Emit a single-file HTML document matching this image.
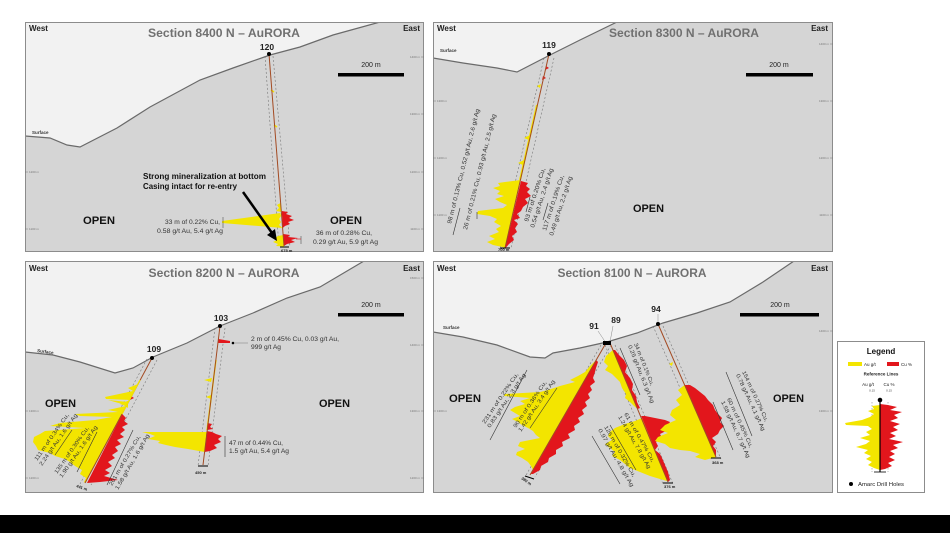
<!DOCTYPE html>
<html><head><meta charset="utf-8"><style>
html,body{margin:0;padding:0;background:#fff;}
svg{display:block;}
text{font-family:"Liberation Sans",sans-serif;}
</style></head><body>
<svg width="950" height="533" viewBox="0 0 950 533" xmlns="http://www.w3.org/2000/svg">
<defs>
<clipPath id="c1"><rect x="25" y="22" width="399" height="230"/></clipPath>
<clipPath id="c2"><rect x="433" y="22" width="400" height="230"/></clipPath>
<clipPath id="c3"><rect x="25" y="261" width="399" height="232"/></clipPath>
<clipPath id="c4"><rect x="433" y="261" width="400" height="232"/></clipPath>
</defs>
<rect width="950" height="533" fill="#fff"/>
<rect x="0" y="515" width="950" height="18" fill="#000"/>

<!-- ================= PANEL 1 ================= -->
<g clip-path="url(#c1)">
<rect x="25" y="22" width="399" height="230" fill="#d5d5d5"/>
<polygon points="25,22 380,22 333,35 300,47 270,55 233,68 200,80 150,107 117,128 80,147 67,145 50,138 25,136" fill="#f2f2f2"/>
<polyline points="25,136 50,138 67,145 80,147 117,128 150,107 200,80 233,68 270,55 300,47 333,35 380,22" fill="none" stroke="#6a6a6a" stroke-width="1.2"/>
<!-- dashed ref lines -->
<line x1="265" y1="56" x2="279" y2="247" stroke="#777" stroke-width="0.6" stroke-dasharray="2,2"/>
<line x1="273" y1="56" x2="290" y2="247" stroke="#777" stroke-width="0.6" stroke-dasharray="2,2"/>
<!-- histograms -->
<polygon points="222,221 280.3,213 281,216 279,219 281,222 279,225 282.5,228 222,223" fill="#f3e500"/>
<polygon points="280.5,203 277,205 279,208 276,211 281.5,212" fill="#f3e500"/>
<polygon points="281.8,211 288,212 286,214 292,216 289,218 294,220 288,222 290,224 285,226 282.7,228" fill="#e2161c"/>
<polygon points="283.4,235 278,236 275,238 277,240 273,242 278,244 276,246 284,246.5" fill="#f3e500"/>
<polygon points="283.4,234 290,235 288,237 298,238 291,240 295,242 287,244 284,246" fill="#e2161c"/>
<line x1="271" y1="90" x2="274" y2="92" stroke="#f3e500" stroke-width="1.5"/>
<line x1="274" y1="125" x2="277" y2="127" stroke="#f3e500" stroke-width="1.5"/>
<line x1="269" y1="54" x2="284" y2="246" stroke="#a34a22" stroke-width="1"/>
<line x1="280" y1="247" x2="289" y2="247" stroke="#000" stroke-width="1"/>
<line x1="223" y1="217" x2="223" y2="228" stroke="#555" stroke-width="0.6"/>
<line x1="301" y1="236" x2="301" y2="244" stroke="#555" stroke-width="0.6"/>
<line x1="296" y1="239" x2="301" y2="239" stroke="#e2161c" stroke-width="0.6"/>
</g>
<rect x="25.5" y="22.5" width="398" height="229" fill="none" stroke="#8c8c8c"/>
<circle cx="269" cy="54" r="2" fill="#000"/>
<text x="29" y="31" font-size="8" font-weight="bold" fill="#222">West</text>
<text x="420" y="31" font-size="8" font-weight="bold" fill="#222" text-anchor="end">East</text>
<text x="224" y="37" font-size="12" font-weight="bold" fill="#707070" text-anchor="middle" textLength="152" lengthAdjust="spacingAndGlyphs">Section 8400 N – AuRORA</text>
<text x="267" y="50" font-size="8.5" font-weight="bold" fill="#222" text-anchor="middle">120</text>
<text x="32" y="134" font-size="4.5" font-weight="bold" fill="#333">Surface</text>
<rect x="338" y="73" width="66" height="3.5" fill="#000"/>
<text x="371" y="67" font-size="7" fill="#222" text-anchor="middle">200 m</text>
<text x="83" y="224" font-size="11" font-weight="bold" fill="#111" textLength="32" lengthAdjust="spacingAndGlyphs">OPEN</text>
<text x="330" y="224" font-size="11" font-weight="bold" fill="#111" textLength="32" lengthAdjust="spacingAndGlyphs">OPEN</text>
<text x="143" y="179" font-size="8" font-weight="bold" fill="#111" textLength="123" lengthAdjust="spacingAndGlyphs">Strong mineralization at bottom</text>
<text x="143" y="189" font-size="8" font-weight="bold" fill="#111" textLength="94" lengthAdjust="spacingAndGlyphs">Casing intact for re-entry</text>
<line x1="243" y1="192" x2="272" y2="233" stroke="#000" stroke-width="2.5"/>
<polygon points="277,241 267,235 275,229" fill="#000"/>
<text x="220" y="224" font-size="6" fill="#333" text-anchor="end" textLength="55" lengthAdjust="spacingAndGlyphs">33 m of 0.22% Cu,</text>
<text x="223" y="233" font-size="6" fill="#333" text-anchor="end" textLength="66" lengthAdjust="spacingAndGlyphs">0.58 g/t Au, 5.4 g/t Ag</text>
<text x="316" y="235" font-size="6" fill="#333" textLength="56" lengthAdjust="spacingAndGlyphs">36 m of 0.28% Cu,</text>
<text x="313" y="244" font-size="6" fill="#333" textLength="65" lengthAdjust="spacingAndGlyphs">0.29 g/t Au, 5.9 g/t Ag</text>
<text x="281" y="252" font-size="4" font-weight="bold" fill="#222">675 m</text>
<g stroke="#777" stroke-width="0.5">
<line x1="421" y1="57" x2="424" y2="57"/><line x1="421" y1="114" x2="424" y2="114"/><line x1="421" y1="172" x2="424" y2="172"/><line x1="421" y1="229" x2="424" y2="229"/>
<line x1="25" y1="172" x2="28" y2="172"/><line x1="25" y1="229" x2="28" y2="229"/>
</g>
<g font-size="3" fill="#777">
<text x="420" y="58" text-anchor="end">1400 m</text><text x="420" y="115" text-anchor="end">1300 m</text><text x="420" y="173" text-anchor="end">1200 m</text><text x="420" y="230" text-anchor="end">1100 m</text>
<text x="29" y="173">1200 m</text><text x="29" y="230">1100 m</text>
</g>

<!-- ================= PANEL 2 ================= -->
<g clip-path="url(#c2)">
<rect x="433" y="22" width="400" height="230" fill="#d5d5d5"/>
<polygon points="433,22 617,22 580,40 550,55 517,72 497,68 463,63 433,58" fill="#f2f2f2"/>
<polyline points="433,58 463,63 497,68 517,72 550,55 580,40 617,22" fill="none" stroke="#6a6a6a" stroke-width="1.2"/>
<line x1="544" y1="58" x2="500" y2="248" stroke="#777" stroke-width="0.6" stroke-dasharray="2,2"/>
<line x1="554" y1="58" x2="511" y2="248" stroke="#777" stroke-width="0.6" stroke-dasharray="2,2"/>
<polygon points="520.4,180 505,182 498,183 500,186 493,188 500,191 497,194 504,196 495,199 500,202 507,205 503,208 478,211 477,214 490,216 497,219 494,222 501,226 496,229 499,232 489,236 495,239 487,242 493,245 505,247.5" fill="#f3e500"/>
<polygon points="521,181 528,183 526,186 530,189 527,192 531,196 525,199 528,203 523,207 521,211 517,214 520,218 514,220 518,224 515,228 517,232 512,236 514,240 509,244 506,247.5 505.2,247.5" fill="#e2161c"/>
<line x1="537" y1="105" x2="520" y2="180" stroke="#f3e500" stroke-width="2"/>
<polygon points="530,135 524,138 529,140" fill="#f3e500"/>
<polygon points="524,160 518,163 523,165" fill="#f3e500"/>
<polygon points="546,66 549,68 545,70" fill="#e2161c"/>
<polygon points="543,76 546,78 542,80" fill="#e2161c"/>
<polygon points="541,84 537,86 540,88" fill="#f3e500"/>
<line x1="549" y1="54" x2="505" y2="248" stroke="#a34a22" stroke-width="1"/>
<line x1="500" y1="248" x2="510" y2="248" stroke="#000" stroke-width="1"/>
</g>
<rect x="433.5" y="22.5" width="399" height="229" fill="none" stroke="#8c8c8c"/>
<circle cx="549" cy="54" r="2" fill="#000"/>
<text x="437" y="31" font-size="8" font-weight="bold" fill="#222">West</text>
<text x="828" y="31" font-size="8" font-weight="bold" fill="#222" text-anchor="end">East</text>
<text x="684" y="37" font-size="12" font-weight="bold" fill="#707070" text-anchor="middle" textLength="150" lengthAdjust="spacingAndGlyphs">Section 8300 N – AuRORA</text>
<text x="549" y="48" font-size="8.5" font-weight="bold" fill="#222" text-anchor="middle">119</text>
<text x="440" y="52" font-size="4.5" font-weight="bold" fill="#333">Surface</text>
<rect x="746" y="73" width="67" height="3.5" fill="#000"/>
<text x="779" y="67" font-size="7" fill="#222" text-anchor="middle">200 m</text>
<text x="633" y="212" font-size="11" font-weight="bold" fill="#111" textLength="31" lengthAdjust="spacingAndGlyphs">OPEN</text>
<g font-size="6" fill="#333">
<text transform="translate(451,224) rotate(-76)" textLength="118" lengthAdjust="spacingAndGlyphs">98 m of 0.13% Cu, 0.52 g/t Au, 2.6 g/t Ag</text>
<text transform="translate(467,230) rotate(-76)" textLength="119" lengthAdjust="spacingAndGlyphs">26 m of 0.21% Cu, 0.93 g/t Au, 2.5 g/t Ag</text>
<text transform="translate(528,222) rotate(-72)" textLength="56" lengthAdjust="spacingAndGlyphs">93 m of 0.20% Cu,</text>
<text transform="translate(534,228) rotate(-72)" textLength="62" lengthAdjust="spacingAndGlyphs">0.54 g/t Au, 2.4 g/t Ag</text>
<text transform="translate(546,231) rotate(-72)" textLength="58" lengthAdjust="spacingAndGlyphs">117 m of 0.19% Cu,</text>
<text transform="translate(553,236) rotate(-72)" textLength="62" lengthAdjust="spacingAndGlyphs">0.49 g/t Au, 2.2 g/t Ag</text>
</g>
<g stroke="#333" stroke-width="0.6">
<line x1="453" y1="235" x2="460" y2="208"/>
<line x1="477" y1="212" x2="477" y2="219"/>
<line x1="526" y1="212" x2="530" y2="197"/>
<line x1="543" y1="220" x2="548" y2="203"/>
</g>
<text x="498" y="251" font-size="4" font-weight="bold" fill="#222">700 m</text>
<g stroke="#777" stroke-width="0.5">
<line x1="830" y1="44" x2="833" y2="44"/><line x1="830" y1="101" x2="833" y2="101"/><line x1="830" y1="158" x2="833" y2="158"/><line x1="830" y1="215" x2="833" y2="215"/>
<line x1="433" y1="101" x2="436" y2="101"/><line x1="433" y1="158" x2="436" y2="158"/><line x1="433" y1="215" x2="436" y2="215"/>
</g>
<g font-size="3" fill="#777">
<text x="829" y="45" text-anchor="end">1400 m</text><text x="829" y="102" text-anchor="end">1300 m</text><text x="829" y="159" text-anchor="end">1200 m</text><text x="829" y="216" text-anchor="end">1100 m</text>
<text x="437" y="102">1300 m</text><text x="437" y="159">1200 m</text><text x="437" y="216">1100 m</text>
</g>

<!-- ================= PANEL 3 ================= -->
<g clip-path="url(#c3)">
<rect x="25" y="261" width="399" height="232" fill="#d5d5d5"/>
<polygon points="25,261 364,261 320,287 287,298 253,313 220,326 187,343 153,357 133,368 115,373 80,362 53,355 25,352" fill="#f2f2f2"/>
<polyline points="25,352 53,355 80,362 115,373 133,368 153,357 187,343 220,326 253,313 287,298 320,287 364,261" fill="none" stroke="#6a6a6a" stroke-width="1.2"/>
<line x1="147" y1="359" x2="80" y2="484" stroke="#777" stroke-width="0.6" stroke-dasharray="2,2"/>
<line x1="157" y1="360" x2="91" y2="485" stroke="#777" stroke-width="0.6" stroke-dasharray="2,2"/>
<line x1="215" y1="328" x2="198" y2="466" stroke="#777" stroke-width="0.6" stroke-dasharray="2,2"/>
<line x1="225" y1="328" x2="208" y2="466" stroke="#777" stroke-width="0.6" stroke-dasharray="2,2"/>
<!-- hole 109 -->
<polygon points="138.1,384 128,388 133,391 105,397 106,399 130,400 120,404 126,406 108,410 118,412 75,414 80,416 112,417 95,420 60,423 50,426 85,428 45,431 40,434 34,437 33,442 36,446 38,450 50,453 55,456 65,459 70,462 75,466 82,470 80,474 86,478 84,482 85.5,483" fill="#f3e500"/>
<polygon points="128,408 122,404 108,400 128,402" fill="#f3e500"/>
<polygon points="122.2,414 126,418 124,421 128,424 122,427 125,430 120,434 124,437 117,440 121,444 115,447 118,451 112,455 115,458 108,462 112,466 105,470 110,473 104,476 118,480 100,482 87,483" fill="#e2161c"/>
<polygon points="131,396 134,398 130,400" fill="#e2161c"/>
<line x1="152" y1="358" x2="85" y2="483" stroke="#a34a22" stroke-width="1"/>
<line x1="140" y1="380" x2="122" y2="414" stroke="#f3e500" stroke-width="1.2"/>
<!-- hole 103 -->
<line x1="216" y1="360" x2="207" y2="430" stroke="#f3e500" stroke-width="1.4"/>
<polygon points="212,378 204,380 211,382" fill="#f3e500"/>
<polygon points="211,395 206,397 211,399" fill="#f3e500"/>
<polygon points="207.5,423 212,424 210,427 213,429 207,430" fill="#e2161c"/>
<polygon points="206.6,432 142,432 150,434 155,436 148,439 160,441 158,443 166,445 175,447 188,449 204.6,452" fill="#f3e500"/>
<polygon points="206.6,431 212,432 216,434 222,436 218,439 221,442 214,445 217,448 210,451 204.6,452" fill="#e2161c"/>
<polygon points="218.5,339 230,341 230,343 218.3,343" fill="#e2161c"/>
<line x1="220" y1="326" x2="203" y2="465" stroke="#a34a22" stroke-width="1"/>
<line x1="198" y1="466" x2="208" y2="466" stroke="#000" stroke-width="1"/>
</g>
<rect x="25.5" y="261.5" width="398" height="231" fill="none" stroke="#8c8c8c"/>
<circle cx="152" cy="358" r="2" fill="#000"/>
<circle cx="220" cy="326" r="2" fill="#000"/>
<circle cx="233" cy="343" r="1.3" fill="#000"/>
<line x1="235" y1="343" x2="248" y2="343" stroke="#888" stroke-width="0.6"/>
<text x="29" y="271" font-size="8" font-weight="bold" fill="#222">West</text>
<text x="420" y="271" font-size="8" font-weight="bold" fill="#222" text-anchor="end">East</text>
<text x="224" y="277" font-size="12" font-weight="bold" fill="#707070" text-anchor="middle" textLength="151" lengthAdjust="spacingAndGlyphs">Section 8200 N – AuRORA</text>
<text x="154" y="352" font-size="8.5" font-weight="bold" fill="#222" text-anchor="middle">109</text>
<text x="221" y="321" font-size="8.5" font-weight="bold" fill="#222" text-anchor="middle">103</text>
<text transform="translate(37,352) rotate(8)" font-size="4.5" font-weight="bold" fill="#333">Surface</text>
<rect x="338" y="313" width="66" height="3.5" fill="#000"/>
<text x="371" y="307" font-size="7" fill="#222" text-anchor="middle">200 m</text>
<text x="45" y="407" font-size="11" font-weight="bold" fill="#111" textLength="31" lengthAdjust="spacingAndGlyphs">OPEN</text>
<text x="319" y="407" font-size="11" font-weight="bold" fill="#111" textLength="31" lengthAdjust="spacingAndGlyphs">OPEN</text>
<text x="251" y="341" font-size="6" fill="#333" textLength="88" lengthAdjust="spacingAndGlyphs">2 m of 0.45% Cu, 0.03 g/t Au,</text>
<text x="251" y="349" font-size="6" fill="#333" textLength="30" lengthAdjust="spacingAndGlyphs">999 g/t Ag</text>
<text x="229" y="445" font-size="6" fill="#333" textLength="54" lengthAdjust="spacingAndGlyphs">47 m of 0.44% Cu,</text>
<text x="229" y="453" font-size="6" fill="#333" textLength="60" lengthAdjust="spacingAndGlyphs">1.5 g/t Au, 5.4 g/t Ag</text>
<line x1="225" y1="436" x2="225" y2="457" stroke="#333" stroke-width="0.6"/>
<g font-size="5.5" fill="#333">
<text transform="translate(37,461) rotate(-55)" textLength="56" lengthAdjust="spacingAndGlyphs">111 m of 0.34% Cu,</text>
<text transform="translate(42,466) rotate(-55)" textLength="62" lengthAdjust="spacingAndGlyphs">2.24 g/t Au, 1.6 g/t Ag</text>
<text transform="translate(57,474) rotate(-55)" textLength="56" lengthAdjust="spacingAndGlyphs">135 m of 0.30% Cu,</text>
<text transform="translate(62,478) rotate(-55)" textLength="62" lengthAdjust="spacingAndGlyphs">1.90 g/t Au, 1.6 g/t Ag</text>
<text transform="translate(112,486) rotate(-60)" textLength="57" lengthAdjust="spacingAndGlyphs">201 m of 0.27% Cu,</text>
<text transform="translate(118,490) rotate(-60)" textLength="63" lengthAdjust="spacingAndGlyphs">1.58 g/t Au, 1.6 g/t Ag</text>
</g>
<g stroke="#333" stroke-width="0.6">
<line x1="55" y1="455" x2="72" y2="430"/>
<line x1="77" y1="472" x2="97" y2="432"/>
<line x1="107" y1="485" x2="133" y2="430"/>
</g>
<text transform="translate(76,487) rotate(20)" font-size="4" font-weight="bold" fill="#222">441 m</text>
<text x="195" y="474" font-size="4" font-weight="bold" fill="#222">450 m</text>
<g stroke="#777" stroke-width="0.5">
<line x1="421" y1="278" x2="424" y2="278"/><line x1="421" y1="345" x2="424" y2="345"/><line x1="421" y1="411" x2="424" y2="411"/><line x1="421" y1="478" x2="424" y2="478"/>
<line x1="25" y1="411" x2="28" y2="411"/><line x1="25" y1="478" x2="28" y2="478"/>
</g>
<g font-size="3" fill="#777">
<text x="420" y="279" text-anchor="end">1500 m</text><text x="420" y="346" text-anchor="end">1400 m</text><text x="420" y="412" text-anchor="end">1300 m</text><text x="420" y="479" text-anchor="end">1200 m</text>
<text x="29" y="412">1300 m</text><text x="29" y="479">1200 m</text>
</g>

<!-- ================= PANEL 4 ================= -->
<g clip-path="url(#c4)">
<rect x="433" y="261" width="400" height="232" fill="#d5d5d5"/>
<polygon points="433,261 794,261 763,282 730,302 697,313 663,323 637,333 607,342 580,348 553,353 545,358 530,357 497,345 463,337 433,332" fill="#f2f2f2"/>
<polyline points="433,332 463,337 497,345 530,357 545,358 553,353 580,348 607,342 637,333 663,323 697,313 730,302 763,282 794,261" fill="none" stroke="#6a6a6a" stroke-width="1.2"/>
<g stroke="#777" stroke-width="0.6" stroke-dasharray="2,2">
<line x1="601" y1="345" x2="525" y2="477"/><line x1="611" y1="345" x2="535" y2="477"/>
<line x1="605" y1="345" x2="663" y2="484"/><line x1="615" y1="345" x2="673" y2="484"/>
<line x1="653" y1="326" x2="711" y2="459"/><line x1="663" y1="326" x2="721" y2="459"/>
</g>
<!-- hole 91 -->
<polygon points="596.2,360 590,366 585,372 578,376 570,380 575,382 560,386 548,390 540,392 505,394 504,396 530,398 520,401 525,404 515,407 510,410 515,413 520,416 512,419 518,422 522,425 528,428 533,431 536,435 540,438 520,442 518,446 525,449 517,452 516,455 522,458 528,462 531,466 533,470 532,474 530.5,474" fill="#f3e500"/>
<polygon points="596.2,360 598,362 596,368 595,372 593,378 595,382 590,386 592,390 588,394 590,398 585,402 587,406 582,410 584,414 578,418 580,422 574,426 575,430 568,434 570,438 562,442 563,446 556,450 556,454 549,458 548,462 541,466 540,470 533,474 531,474" fill="#e2161c"/>
<line x1="606" y1="343" x2="530" y2="475" stroke="#a34a22" stroke-width="1"/>
<!-- hole 89 -->
<polygon points="612.9,350 606,356 604,362 608,366 605,370 612,374 616,378 620,382 622,388 626,394 625,398 630,402 634,406 637.6,409" fill="#f3e500"/>
<polygon points="612.9,350 615,350 619,355 624,360 627,366 625,372 630,378 633,384 632,390 636,396 637,402 640,408 637.6,409" fill="#e2161c"/>
<polygon points="642.1,418 635,421 625,424 615,428 610,432 608,436 612,440 605,444 610,448 615,452 612,456 620,460 625,464 630,468 640,472 650,476 660,479 667,481 668,482" fill="#f3e500"/>
<polygon points="641.2,416 645,416 655,418 665,420 670,422 668,425 663,428 666,431 660,434 662,438 656,442 658,446 655,450 660,454 662,458 665,465 668,472 670,480 668,482" fill="#e2161c"/>
<line x1="610" y1="343" x2="668" y2="482" stroke="#a34a22" stroke-width="1"/>
<!-- hole 94 -->
<polygon points="684.6,385 678,390 682,395 676,400 680,405 672,410 670,415 676,420 665,425 660,430 668,433 658,437 655,441 665,444 670,448 680,450 690,451 700,454 695,457 705,460 716,457 713,450" fill="#f3e500"/>
<polygon points="684.6,385 690,385 695,388 700,392 705,396 708,400 713,405 715,410 718,414 722,418 720,422 724,426 720,430 718,434 712,438 716,442 713,446 716,450 716,456 713,450" fill="#e2161c"/>
<polygon points="673,362 669,364 672,366" fill="#f3e500"/>
<line x1="658" y1="324" x2="716" y2="457" stroke="#a34a22" stroke-width="1"/>
<line x1="711" y1="458" x2="721" y2="458" stroke="#000" stroke-width="1"/>
<line x1="663" y1="483" x2="673" y2="483" stroke="#000" stroke-width="1"/>
<line x1="525" y1="476" x2="534" y2="479" stroke="#000" stroke-width="1"/>
</g>
<rect x="433.5" y="261.5" width="399" height="231" fill="none" stroke="#8c8c8c"/>
<g stroke="#888" stroke-width="0.5">
<line x1="598" y1="331" x2="606" y2="343"/>
<line x1="613" y1="326" x2="610" y2="342"/>
<line x1="658" y1="314" x2="658" y2="323"/>
</g>
<rect x="603" y="341" width="8" height="4" fill="#000"/>
<circle cx="658" cy="324" r="2" fill="#000"/>
<text x="437" y="271" font-size="8" font-weight="bold" fill="#222">West</text>
<text x="828" y="271" font-size="8" font-weight="bold" fill="#222" text-anchor="end">East</text>
<text x="632" y="277" font-size="12" font-weight="bold" fill="#707070" text-anchor="middle" textLength="149" lengthAdjust="spacingAndGlyphs">Section 8100 N – AuRORA</text>
<text x="594" y="329" font-size="8.5" font-weight="bold" fill="#222" text-anchor="middle">91</text>
<text x="616" y="323" font-size="8.5" font-weight="bold" fill="#222" text-anchor="middle">89</text>
<text x="656" y="312" font-size="8.5" font-weight="bold" fill="#222" text-anchor="middle">94</text>
<text x="443" y="329" font-size="4.5" font-weight="bold" fill="#333">Surface</text>
<rect x="740" y="313" width="79" height="3.5" fill="#000"/>
<text x="780" y="307" font-size="7" fill="#222" text-anchor="middle">200 m</text>
<text x="449" y="402" font-size="11" font-weight="bold" fill="#111" textLength="32" lengthAdjust="spacingAndGlyphs">OPEN</text>
<text x="773" y="402" font-size="11" font-weight="bold" fill="#111" textLength="31" lengthAdjust="spacingAndGlyphs">OPEN</text>
<g font-size="5.5" fill="#333">
<text transform="translate(485,424) rotate(-56)" textLength="60" lengthAdjust="spacingAndGlyphs">231 m of 0.22% Cu,</text>
<text transform="translate(490,428) rotate(-56)" textLength="64" lengthAdjust="spacingAndGlyphs">0.83 g/t Au, 2.3 g/t Ag</text>
<text transform="translate(516,428) rotate(-56)" textLength="55" lengthAdjust="spacingAndGlyphs">90 m of 0.36% Cu,</text>
<text transform="translate(521,432) rotate(-56)" textLength="61" lengthAdjust="spacingAndGlyphs">1.42 g/t Au, 3.4 g/t Ag</text>
<text transform="translate(634,344) rotate(68)" textLength="45" lengthAdjust="spacingAndGlyphs">34 m of 0.1% Cu,</text>
<text transform="translate(628,346) rotate(68)" textLength="62" lengthAdjust="spacingAndGlyphs">0.25 g/t Au, 6.3 g/t Ag</text>
<text transform="translate(624,414) rotate(60)" textLength="56" lengthAdjust="spacingAndGlyphs">61 m of 0.47% Cu,</text>
<text transform="translate(618,417) rotate(60)" textLength="60" lengthAdjust="spacingAndGlyphs">1.24 g/t Au, 7.8 g/t Ag</text>
<text transform="translate(604,427) rotate(60)" textLength="58" lengthAdjust="spacingAndGlyphs">126 m of 0.32% Cu,</text>
<text transform="translate(598,430) rotate(60)" textLength="66" lengthAdjust="spacingAndGlyphs">0.97 g/t Au, 4.8 g/t Ag</text>
<text transform="translate(742,372) rotate(65)" textLength="55" lengthAdjust="spacingAndGlyphs">154 m of 0.27% Cu,</text>
<text transform="translate(736,375) rotate(65)" textLength="62" lengthAdjust="spacingAndGlyphs">0.78 g/t Au, 4.1 g/t Ag</text>
<text transform="translate(727,399) rotate(65)" textLength="54" lengthAdjust="spacingAndGlyphs">60 m of 0.45% Cu,</text>
<text transform="translate(721,402) rotate(65)" textLength="62" lengthAdjust="spacingAndGlyphs">1.58 g/t Au, 6.7 g/t Ag</text>
</g>
<g stroke="#333" stroke-width="0.6">
<line x1="490" y1="440" x2="527" y2="370"/>
<line x1="530" y1="428" x2="557" y2="388"/>
<line x1="620" y1="348" x2="640" y2="395"/>
<line x1="610" y1="425" x2="636" y2="470"/>
<line x1="592" y1="436" x2="620" y2="484"/>
<line x1="726" y1="372" x2="752" y2="436"/>
<line x1="713" y1="402" x2="733" y2="450"/>
</g>
<text transform="translate(521,479) rotate(35)" font-size="4" font-weight="bold" fill="#222">380 m</text>
<text x="664" y="488" font-size="4" font-weight="bold" fill="#222">376 m</text>
<text x="712" y="464" font-size="4" font-weight="bold" fill="#222">368 m</text>
<g stroke="#777" stroke-width="0.5">
<line x1="830" y1="331" x2="833" y2="331"/><line x1="830" y1="411" x2="833" y2="411"/>
<line x1="433" y1="411" x2="436" y2="411"/>
</g>
<g font-size="3" fill="#777">
<text x="829" y="332" text-anchor="end">1400 m</text><text x="829" y="412" text-anchor="end">1300 m</text>
<text x="437" y="412">1300 m</text>
</g>

<!-- ================= LEGEND ================= -->
<rect x="837.5" y="341.5" width="87" height="151" fill="#fff" stroke="#8c8c8c"/>
<text x="881" y="354" font-size="8" font-weight="bold" fill="#111" text-anchor="middle">Legend</text>
<rect x="848" y="362" width="14" height="4" fill="#f3e500"/>
<text x="864" y="366" font-size="4.5" fill="#222">Au g/t</text>
<rect x="887" y="362" width="12" height="4" fill="#e2161c"/>
<text x="901" y="366" font-size="4.5" fill="#222">Cu %</text>
<text x="881" y="375.5" font-size="4.5" font-weight="bold" fill="#222" text-anchor="middle">Reference Lines</text>
<text x="868" y="386" font-size="4.5" fill="#222" text-anchor="middle">Au g/t</text>
<text x="872" y="391.5" font-size="3" fill="#444" text-anchor="middle">0.15</text>
<text x="889" y="386" font-size="4.5" fill="#222" text-anchor="middle">Cu %</text>
<text x="889" y="391.5" font-size="3" fill="#444" text-anchor="middle">0.15</text>
<line x1="872" y1="402" x2="872" y2="472" stroke="#777" stroke-width="0.5" stroke-dasharray="1.5,1.5"/>
<line x1="888" y1="402" x2="888" y2="472" stroke="#777" stroke-width="0.5" stroke-dasharray="1.5,1.5"/>
<polygon points="880,405 872,406 874,409 868,411 874,414 870,417 862,420 845,423 846,425 868,426 872,429 866,432 870,435 860,438 870,441 866,444 856,447 868,450 864,453 871,456 866,459 872,462 868,465 874,468 880,470" fill="#f3e500"/>
<polygon points="880,404 888,405 897,407 890,410 902,412 894,415 898,418 890,421 900,424 893,427 898,430 890,433 896,436 889,439 903,442 893,445 898,448 890,451 895,454 889,457 895,460 888,463 892,466 885,469 880,470" fill="#e2161c"/>
<line x1="880" y1="400" x2="880" y2="472" stroke="#000" stroke-width="1.2"/>
<line x1="874" y1="472" x2="886" y2="472" stroke="#000" stroke-width="0.8"/>
<circle cx="880" cy="400" r="2.3" fill="#000"/>
<circle cx="851" cy="484" r="2" fill="#000"/>
<text x="858" y="486" font-size="5" fill="#222" textLength="46" lengthAdjust="spacingAndGlyphs">Amarc Drill Holes</text>
</svg>
</body></html>
